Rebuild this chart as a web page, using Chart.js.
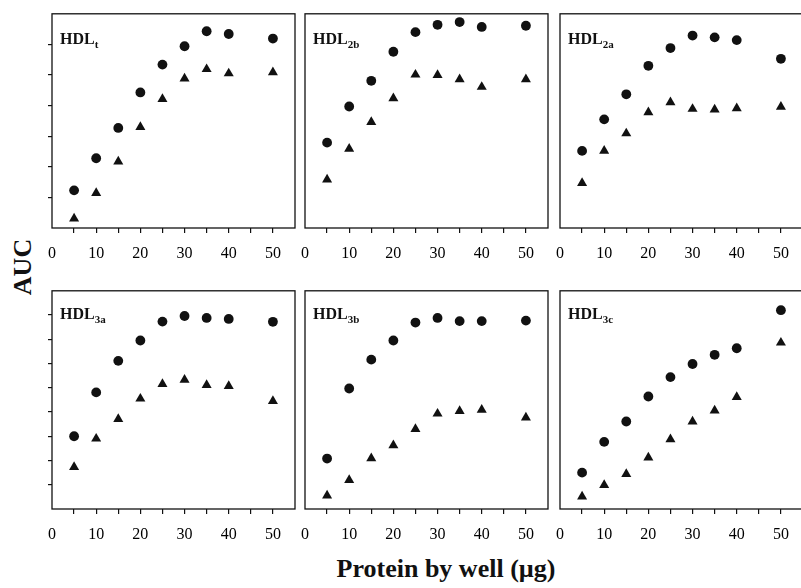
<!DOCTYPE html>
<html>
<head>
<meta charset="utf-8">
<script src="https://cdn.jsdelivr.net/npm/chart.js@4.4.1/dist/chart.umd.min.js"></script>
<style>
  html, body { margin: 0; padding: 0; background: #fff; }
  body { width: 801px; height: 588px; position: relative; overflow: hidden; }
  .panel { position: absolute; }
  .axisTitle { position: absolute; font-family: "Liberation Serif", serif; font-weight: bold; color: #111; white-space: nowrap; }
  #yTitle { font-size: 26px; left: 23px; top: 267px; transform: translate(-50%, -50%) rotate(-90deg); }
  #xTitle { font-size: 26px; left: 446px; top: 569px; transform: translate(-50%, -50%); }
</style>
</head>
<body>
<div class="axisTitle" id="yTitle">AUC</div>
<div class="axisTitle" id="xTitle">Protein by well (µg)</div>

<script>
// protein amount per well (µg)
const doses = [5, 10, 15, 20, 25, 30, 35, 40, 50];
const xTickLabels = [0, 10, 20, 30, 40, 50];

// circles and triangles
const hdlTCircles = [1.23, 2.28, 3.27, 4.43, 5.34, 5.94, 6.43, 6.34, 6.19];
const hdlTTriangles = [0.31, 1.14, 2.17, 3.30, 4.21, 4.88, 5.19, 5.05, 5.09];
const hdl2bCircles = [2.79, 3.97, 4.81, 5.76, 6.40, 6.64, 6.73, 6.57, 6.61];
const hdl2bTriangles = [1.58, 2.59, 3.46, 4.24, 5.01, 5.00, 4.86, 4.61, 4.86];
const hdl2aCircles = [2.52, 3.55, 4.37, 5.30, 5.88, 6.29, 6.23, 6.14, 5.53];
const hdl2aTriangles = [1.47, 2.52, 3.09, 3.78, 4.11, 3.89, 3.87, 3.91, 3.96];
const hdl3aCircles = [3.00, 4.81, 6.11, 6.95, 7.73, 7.96, 7.88, 7.84, 7.72];
const hdl3aTriangles = [1.73, 2.90, 3.71, 4.55, 5.15, 5.33, 5.11, 5.07, 4.45];
const hdl3bCircles = [2.08, 4.97, 6.16, 6.95, 7.69, 7.88, 7.75, 7.75, 7.77];
const hdl3bTriangles = [0.55, 1.19, 2.09, 2.63, 3.30, 3.93, 4.04, 4.09, 3.77];
const hdl3cCircles = [1.50, 2.77, 3.61, 4.64, 5.44, 5.98, 6.36, 6.63, 8.20];
const hdl3cTriangles = [0.51, 0.99, 1.44, 2.12, 2.87, 3.61, 4.06, 4.62, 6.86];

const ink = '#111';
const serif = '"Liberation Serif", "Times New Roman", serif';
const yAxisW = 16;

// box around the plot area + the HDL label with its subscript
const panelFrame = {
    id: 'panelFrame',
    afterDraw(chart, args, opts) {
        const { ctx, chartArea: a } = chart;
        ctx.save();
        ctx.strokeStyle = ink;
        ctx.lineWidth = 1.3;
        ctx.strokeRect(a.left, a.top, a.right - a.left, a.bottom - a.top);

        ctx.fillStyle = ink;
        ctx.textBaseline = 'alphabetic';
        ctx.font = 'bold 16px ' + serif;
        const x = a.left + 8;
        const y = a.top + opts.baseline;
        ctx.fillText('HDL', x, y);
        const w = ctx.measureText('HDL').width;
        ctx.font = 'bold 11px ' + serif;
        ctx.fillText(opts.sub, x + w, y + 4);
        ctx.restore();
    }
};

function makePanel(left, top, plotH, yMax, circles, triangles, sub, yTicks, labelBase) {
    const wrap = document.createElement('div');
    wrap.className = 'panel';
    const cw = yAxisW + 243 + 14;
    const ch = 4 + plotH + 40;
    wrap.style.left = (left - yAxisW) + 'px';
    wrap.style.top = (top - 4) + 'px';
    const canvas = document.createElement('canvas');
    canvas.width = cw;
    canvas.height = ch;
    canvas.style.width = cw + 'px';
    canvas.style.height = ch + 'px';
    wrap.appendChild(canvas);
    document.body.appendChild(wrap);

    new Chart(canvas.getContext('2d'), {
        type: 'scatter',
        data: {
            datasets: [
                {
                    data: doses.map((d, i) => ({ x: d, y: circles[i] })),
                    pointStyle: 'circle',
                    pointRadius: 4.9,
                    backgroundColor: ink,
                    borderColor: ink,
                    borderWidth: 0
                },
                {
                    data: doses.map((d, i) => ({ x: d, y: triangles[i] })),
                    pointStyle: 'triangle',
                    pointRadius: 5.8,
                    backgroundColor: ink,
                    borderColor: ink,
                    borderWidth: 0
                }
            ]
        },
        options: {
            responsive: false,
            animation: false,
            devicePixelRatio: 1,
            layout: { padding: { top: 4, right: 14, left: 0, bottom: 0 } },
            plugins: {
                legend: { display: false },
                tooltip: { enabled: false },
                panelFrame: { sub: sub, baseline: labelBase }
            },
            scales: {
                x: {
                    type: 'linear',
                    min: 0,
                    max: 55,
                    afterFit: (s) => { s.height = 40; },
                    border: { display: false },
                    grid: {
                        drawOnChartArea: false,
                        tickLength: 5,
                        lineWidth: 1.2,
                        color: (c) => (c.tick && c.tick.value > 0 && c.tick.value < 55) ? ink : 'rgba(0,0,0,0)'
                    },
                    ticks: {
                        stepSize: 5,
                        padding: 11,
                        color: '#000',
                        maxRotation: 0,
                        autoSkip: false,
                        font: { family: serif, size: 16 },
                        callback: (v) => xTickLabels.includes(v) ? String(v) : ''
                    }
                },
                y: {
                    type: 'linear',
                    min: 0,
                    max: yMax,
                    afterFit: (s) => { s.width = yAxisW; },
                    border: { display: false },
                    grid: {
                        drawOnChartArea: false,
                        drawTicks: yTicks,
                        tickLength: 4,
                        lineWidth: 1.2,
                        color: (c) => (c.tick && c.tick.value > 0 && c.tick.value < yMax) ? ink : 'rgba(0,0,0,0)'
                    },
                    ticks: { stepSize: 1, display: false }
                }
            }
        },
        plugins: [panelFrame]
    });
}

// top row: 0-7 scale, bottom row: 0-9 scale
makePanel(52, 12, 216, 7, hdlTCircles, hdlTTriangles, 't', true, 30);
makePanel(305, 12, 216, 7, hdl2bCircles, hdl2bTriangles, '2b', false, 30);
makePanel(560, 12, 216, 7, hdl2aCircles, hdl2aTriangles, '2a', false, 30);
makePanel(52, 289, 220, 9, hdl3aCircles, hdl3aTriangles, '3a', true, 28);
makePanel(305, 289, 220, 9, hdl3bCircles, hdl3bTriangles, '3b', false, 28);
makePanel(560, 289, 220, 9, hdl3cCircles, hdl3cTriangles, '3c', false, 28);
</script>
</body>
</html>
